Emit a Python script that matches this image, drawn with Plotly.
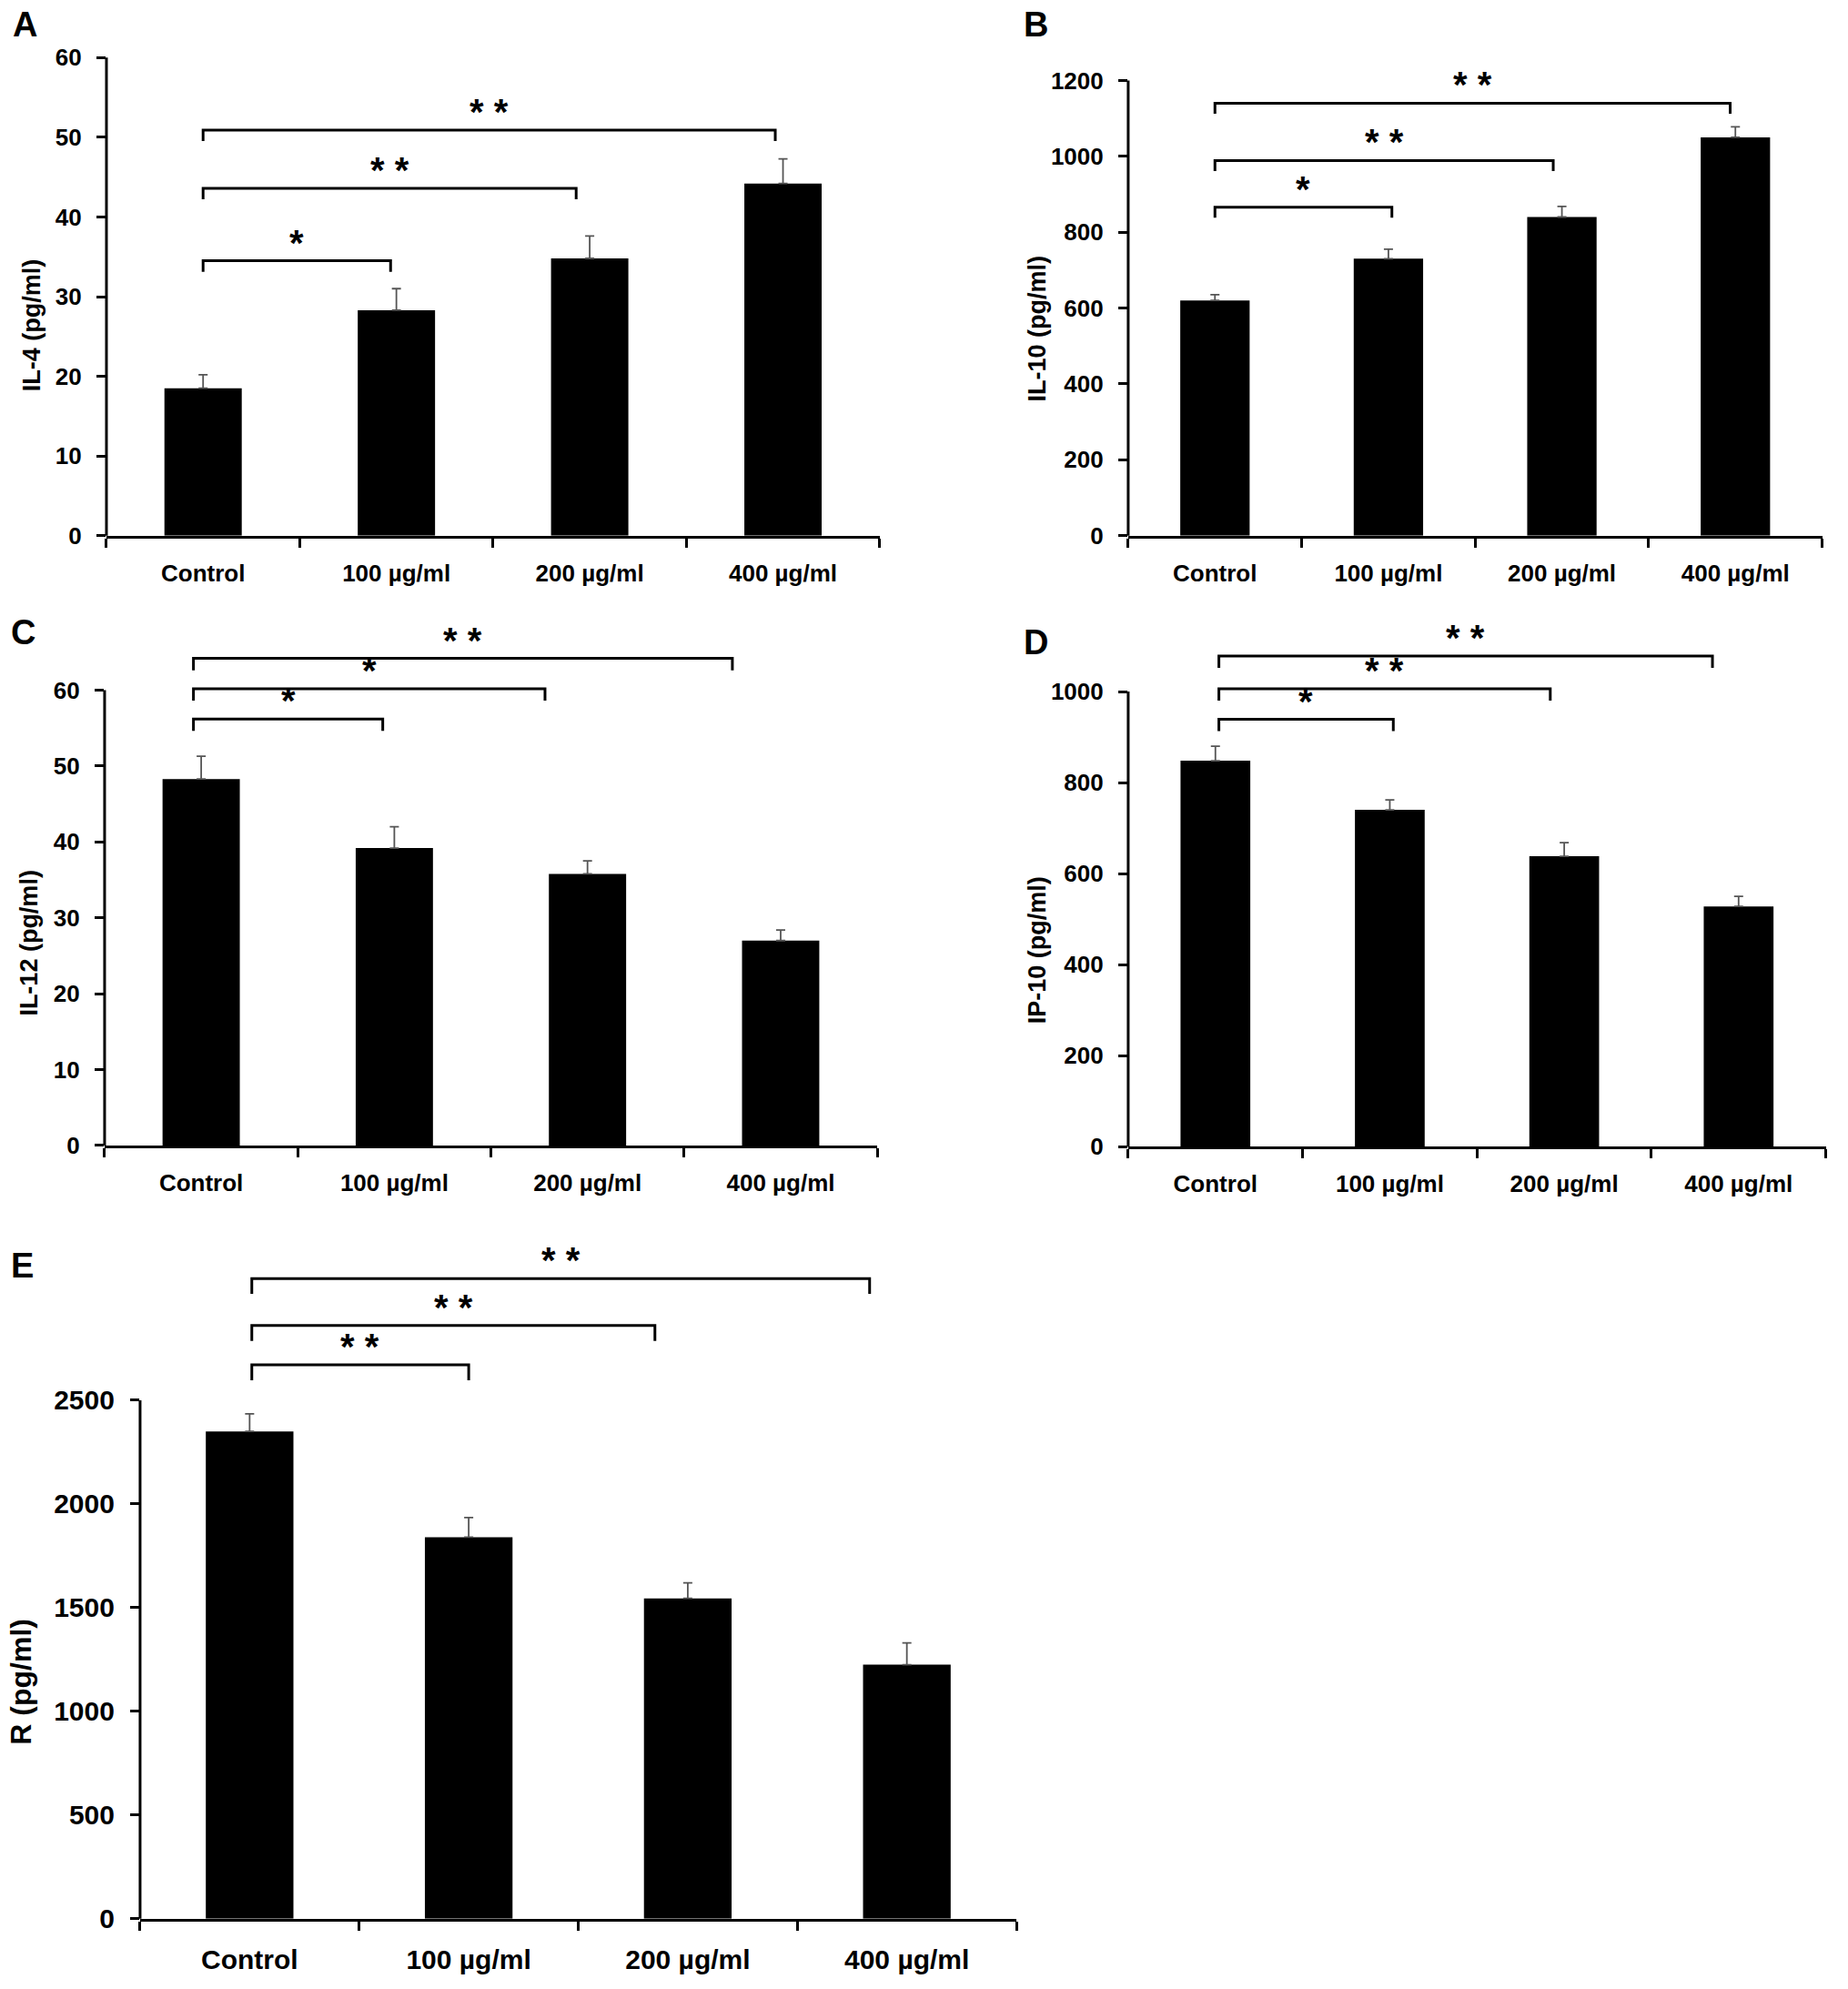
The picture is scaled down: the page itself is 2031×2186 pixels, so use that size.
import plotly.graph_objects as go

# ---------------- data ----------------
categories = ["Control", "100 µg/ml", "200 µg/ml", "400 µg/ml"]

il4 = [18.5, 28.3, 34.8, 44.2]
il4_err = [1.7, 2.7, 2.8, 3.1]

il10 = [620, 730, 840, 1050]
il10_err = [15, 25, 28, 28]

il12 = [48.3, 39.2, 35.8, 27.0]
il12_err = [3.0, 2.8, 1.7, 1.4]

ip10 = [848, 740, 638, 528]
ip10_err = [32, 22, 30, 22]

r_vals = [2350, 1840, 1545, 1225]
r_err = [85, 95, 75, 105]

panel_letters = ["A", "B", "C", "D", "E"]
y_titles = ["IL-4 (pg/ml)", "IL-10 (pg/ml)", "IL-12 (pg/ml)", "IP-10 (pg/ml)", "R (pg/ml)"]
y_ticks = [
    [0, 10, 20, 30, 40, 50, 60],
    [0, 200, 400, 600, 800, 1000, 1200],
    [0, 10, 20, 30, 40, 50, 60],
    [0, 200, 400, 600, 800, 1000],
    [0, 500, 1000, 1500, 2000, 2500],
]
sig_labels = [
    ["*", "* *", "* *"],
    ["*", "* *", "* *"],
    ["*", "*", "* *"],
    ["*", "* *", "* *"],
    ["* *", "* *", "* *"],
]
bracket_tops = [
    [34.5, 43.6, 50.9],
    [866, 989, 1140],
    [56.2, 60.2, 64.2],
    [939, 1006, 1078],
    [2671, 2861, 3087],
]
bracket_starts = [0.0, 0.0, -0.04, 0.02, 0.01]
bracket_ends = [
    [0.97, 1.93, 2.96],
    [1.02, 1.95, 2.97],
    [0.94, 1.78, 2.75],
    [1.02, 1.92, 2.85],
    [1.0, 1.85, 2.83],
]

values = [il4, il10, il12, ip10, r_vals]
errors = [il4_err, il10_err, il12_err, ip10_err, r_err]


# ---------------- layout geometry ----------------
def yp(r):
    # vertical position measured on the reference (in 1571-px-high view) -> paper fraction
    return 1 - ((r - 9.3) / 0.984) / 1571


x_domains = [[0.0576, 0.476], [0.6105, 0.986], [0.0566, 0.4747], [0.6105, 0.988], [0.0758, 0.55]]
y_px = [(421, 44), (421, 62), (902, 495.1), (903, 497.3), (1512, 983.6)]
y_domains = [[yp(b), yp(t)] for b, t in y_px]
y_ranges = [[0, 60], [0, 1200], [0, 68], [0, 1130], [0, 3230]]
letter_pos = [(0.0133, yp(18)), (0.5608, yp(18)), (0.0127, yp(497)), (0.5608, yp(505)), (0.0123, yp(997))]
title_pos = [(0.0172, yp(255)), (0.5613, yp(258)), (0.0156, yp(742)), (0.5613, yp(748)), (0.0115, yp(1325))]
drop_frac = 0.023
tick_font = [26, 26, 26, 26, 30]
title_font = [27, 27, 27, 27, 32]

FONT = "Liberation Sans, Arial"

fig = go.Figure()
shapes = []
annotations = []
layout_axes = {}

for i in range(5):
    n = "" if i == 0 else str(i + 1)
    xa, ya = "x" + n, "y" + n
    fig.add_trace(go.Bar(
        x=categories, y=values[i], width=0.4,
        marker=dict(color="black", line=dict(width=0)),
        error_y=dict(type="data", array=errors[i], arrayminus=[0] * 4, symmetric=False,
                     color="#555555", thickness=1.8, width=5),
        xaxis=xa, yaxis=ya, showlegend=False,
    ))
    layout_axes["xaxis" + n] = dict(
        domain=x_domains[i], anchor=ya, type="category", range=[-0.5, 3.5],
        showline=True, linecolor="black", linewidth=3,
        ticks="outside", tickson="boundaries", ticklen=10, tickwidth=3, tickcolor="black",
        showgrid=False, zeroline=False, fixedrange=True,
        tickfont=dict(family=FONT, size=tick_font[i], color="black", weight="bold"),
        ticklabelstandoff=16,
    )
    layout_axes["yaxis" + n] = dict(
        domain=y_domains[i], anchor=xa, range=y_ranges[i],
        showline=False, ticks="outside", ticklen=10, tickwidth=3, tickcolor="black",
        tickvals=y_ticks[i], ticktext=[str(t) for t in y_ticks[i]],
        showgrid=False, zeroline=False, fixedrange=True,
        tickfont=dict(family=FONT, size=tick_font[i], color="black", weight="bold"),
        ticklabelstandoff=11,
    )
    # y axis line from 0 to last tick
    ymax = y_ticks[i][-1]
    shapes.append(dict(type="line", xref=xa + " domain", yref=ya + " domain",
                       x0=0, x1=0, y0=0, y1=ymax / y_ranges[i][1],
                       line=dict(color="black", width=3)))
    # significance brackets
    drop = drop_frac * y_ranges[i][1]
    s = bracket_starts[i]
    for j in range(3):
        top = bracket_tops[i][j]
        e = bracket_ends[i][j]
        shapes.append(dict(type="path", xref=xa, yref=ya,
                           path=f"M {s} {top - drop} L {s} {top} L {e} {top} L {e} {top - drop}",
                           line=dict(color="black", width=3)))
        annotations.append(dict(x=(s + e) / 2, y=top, xref=xa, yref=ya, text=sig_labels[i][j],
                                showarrow=False, yanchor="middle", yshift=20,
                                font=dict(family=FONT, size=40, color="black", weight="bold")))
    # panel letter
    annotations.append(dict(x=letter_pos[i][0], y=letter_pos[i][1], xref="paper", yref="paper",
                            text=panel_letters[i], showarrow=False, xanchor="center", yanchor="middle",
                            font=dict(family=FONT, size=38, color="black", weight="bold")))
    # axis title
    annotations.append(dict(x=title_pos[i][0], y=title_pos[i][1], xref="paper", yref="paper",
                            text=y_titles[i], showarrow=False, textangle=-90,
                            xanchor="center", yanchor="middle",
                            font=dict(family=FONT, size=title_font[i], color="black", weight="bold")))

fig.update_layout(
    width=2031, height=2186,
    margin=dict(l=0, r=0, t=0, b=0),
    paper_bgcolor="white", plot_bgcolor="white",
    shapes=shapes, annotations=annotations,
    **layout_axes,
)

fig.write_html("out.html", config={"displayModeBar": False},
               post_script="document.body.style.margin='0';document.body.style.overflow='hidden';")
